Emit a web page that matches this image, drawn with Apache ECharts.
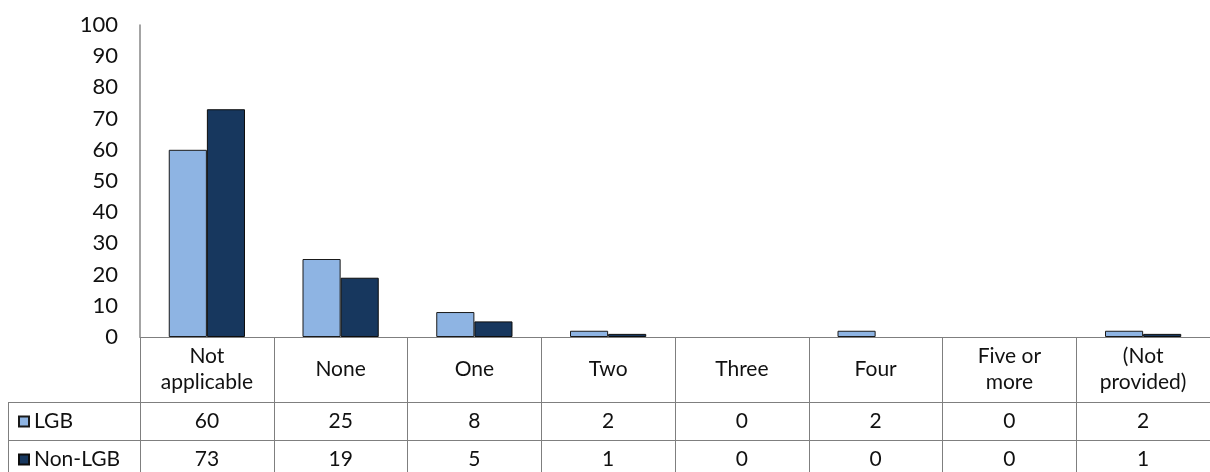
<!DOCTYPE html>
<html>
<head>
<meta charset="utf-8">
<script src="https://cdn.jsdelivr.net/npm/echarts@6/dist/echarts.min.js"></script>
<style>
  html, body { margin: 0; padding: 0; background: #fff; }
  #chart { width: 1210px; height: 472px; }
</style>
</head>
<body>
<div id="chart"></div>
<script>
// categories and series
const categories = ['Not\napplicable', 'None', 'One', 'Two', 'Three', 'Four', 'Five or\nmore', '(Not\nprovided)'];
const lgbValues = [60, 25, 8, 2, 0, 2, 0, 2];
const nonLgbValues = [73, 19, 5, 1, 0, 0, 0, 1];
const seriesNames = ['LGB', 'Non-LGB'];

const FONT = 'Lato';
const FS = 21;
const lineColor = '#7f7f7f';

const chart = echarts.init(document.getElementById('chart'));

// data table rows drawn as extra category axes under the plot
const tableAxis = (offset, values) => ({
  type: 'category',
  data: categories,
  position: 'bottom',
  offset: offset,
  axisLine: { show: true, lineStyle: { color: lineColor, width: 1 } },
  axisTick: { show: false },
  axisLabel: {
    interval: 0,
    margin: 19,
    verticalAlign: 'middle',
    fontFamily: FONT,
    fontSize: FS,
    color: '#111',
    formatter: (v, i) => String(values[i])
  }
});

// one legend per table row (row headers)
const rowLegend = (name, top) => ({
  left: 13,
  top: top,
  icon: 'rect',
  itemWidth: 10,
  itemHeight: 10,
  textStyle: { fontFamily: FONT, fontSize: FS, color: '#111' },
  data: [name]
});

// zero values are not drawn as bars
const barData = values => values.map(v => (v === 0 ? null : v));

chart.setOption({
  animation: false,
  textStyle: { fontFamily: FONT },
  grid: { left: 140, top: 25, right: -11, bottom: 135 },
  legend: [
    rowLegend(seriesNames[0], 406),
    rowLegend(seriesNames[1], 444)
  ],
  xAxis: [
    {
      type: 'category',
      data: categories,
      axisLine: { show: true, lineStyle: { color: lineColor, width: 1 } },
      axisTick: {
        show: true,
        interval: 0,
        length: 145,
        lineStyle: { color: lineColor, width: 1 }
      },
      axisLabel: {
        interval: 0,
        margin: 32,
        verticalAlign: 'middle',
        fontFamily: FONT,
        fontSize: FS,
        lineHeight: 26,
        color: '#111'
      }
    },
    tableAxis(65, lgbValues),
    tableAxis(103, nonLgbValues)
  ],
  yAxis: {
    type: 'value',
    min: 0,
    max: 100,
    interval: 10,
    axisLine: { show: true, lineStyle: { color: '#868686', width: 1.5 } },
    axisTick: { show: false },
    splitLine: { show: false },
    axisLabel: { margin: 22, fontFamily: FONT, fontSize: 22, color: '#111' }
  },
  graphic: [
    // left column of the data table
    { type: 'line', shape: { x1: 8, y1: 402.5, x2: 140, y2: 402.5 }, style: { stroke: lineColor, lineWidth: 1 } },
    { type: 'line', shape: { x1: 8, y1: 440.5, x2: 140, y2: 440.5 }, style: { stroke: lineColor, lineWidth: 1 } },
    { type: 'line', shape: { x1: 8.5, y1: 402, x2: 8.5, y2: 472 }, style: { stroke: lineColor, lineWidth: 1 } }
  ],
  series: [
    {
      name: seriesNames[0],
      type: 'bar',
      data: barData(lgbValues),
      barGap: '0%',
      barCategoryGap: '43%',
      itemStyle: { color: '#8eb4e3', borderColor: '#1a1a1a', borderWidth: 1 }
    },
    {
      name: seriesNames[1],
      type: 'bar',
      data: barData(nonLgbValues),
      itemStyle: { color: '#17375e', borderColor: '#0d0d0d', borderWidth: 1 }
    }
  ]
});
</script>
</body>
</html>
